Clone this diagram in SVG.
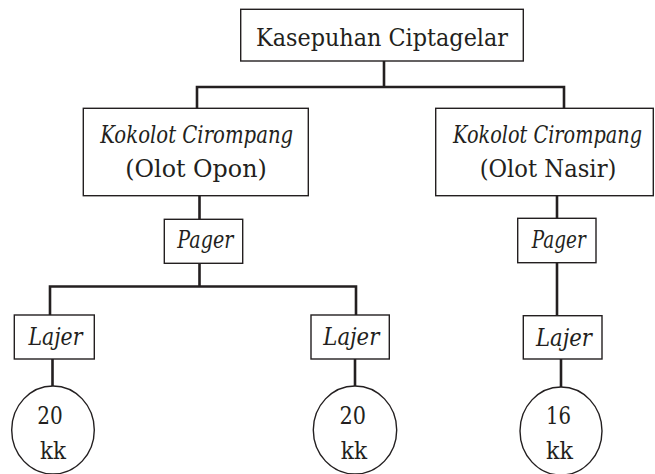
<svg xmlns="http://www.w3.org/2000/svg" width="655" height="474" viewBox="0 0 655 474">
<style>
.box{fill:#fff;stroke:#231f20;stroke-width:1.4}
.conn{fill:none;stroke:#231f20;stroke-width:2.6;stroke-linecap:square;stroke-linejoin:miter}
.t{font-family:'DejaVu Serif',serif;fill:#231f20;text-anchor:middle}
.r{font-size:25px}
.i{font-size:24px;font-style:italic}
.n{font-size:24px}
</style>
<rect width="655" height="474" fill="#fff"/>
<g id="connectors">
<path class="conn" d="M384 61 V87 M197 108 V87 H564 V108"/>
<path class="conn" d="M199.5 196 V219"/>
<path class="conn" d="M199.5 263 V286.5 M50 315 V286.5 H356 V315"/>
<path class="conn" d="M52.5 359 V386"/>
<path class="conn" d="M355 359 V386"/>
<path class="conn" d="M557 196 V218 M557 263 V315.5"/>
<path class="conn" d="M561 359 V386.5"/>
</g>
<g id="n-root">
<rect class="box" x="240.7" y="9.3" width="282.6" height="51.7"/>
<text class="t r" x="382" y="45.5" textLength="252" lengthAdjust="spacingAndGlyphs">Kasepuhan Ciptagelar</text>
</g>
<g id="n-kokolot-opon">
<rect class="box" x="83.3" y="108.3" width="225" height="87.4"/>
<text class="t i" x="196.7" y="143" textLength="193" lengthAdjust="spacingAndGlyphs">Kokolot Cirompang</text>
<text class="t r" x="196" y="177" textLength="141.5" lengthAdjust="spacingAndGlyphs">(Olot Opon)</text>
</g>
<g id="n-kokolot-nasir">
<rect class="box" x="435.7" y="108.3" width="217.6" height="87.4"/>
<text class="t i" x="547.5" y="143" textLength="189" lengthAdjust="spacingAndGlyphs">Kokolot Cirompang</text>
<text class="t r" x="548" y="177" textLength="136.7" lengthAdjust="spacingAndGlyphs">(Olot Nasir)</text>
</g>
<g id="n-pager-left">
<rect class="box" x="164.3" y="219.3" width="78.4" height="44"/>
<text class="t i" x="205.3" y="248.3" textLength="56" lengthAdjust="spacingAndGlyphs">Pager</text>
</g>
<g id="n-pager-right">
<rect class="box" x="517.7" y="218.3" width="78.3" height="44.4"/>
<text class="t i" x="558.7" y="248" textLength="54" lengthAdjust="spacingAndGlyphs">Pager</text>
</g>
<g id="n-lajer-1">
<rect class="box" x="14.3" y="315" width="80" height="44"/>
<text class="t i" x="55.5" y="345" textLength="54" lengthAdjust="spacingAndGlyphs">Lajer</text>
</g>
<g id="n-lajer-2">
<rect class="box" x="311" y="315" width="78.3" height="44"/>
<text class="t i" x="351.3" y="345" textLength="56" lengthAdjust="spacingAndGlyphs">Lajer</text>
</g>
<g id="n-lajer-3">
<rect class="box" x="523.3" y="315.7" width="78.7" height="43.3"/>
<text class="t i" x="564" y="345.5" textLength="56" lengthAdjust="spacingAndGlyphs">Lajer</text>
</g>
<g id="n-kk-1">
<ellipse class="box" cx="53" cy="430" rx="41.3" ry="44"/>
<text class="t n" x="50" y="424" textLength="25.5" lengthAdjust="spacingAndGlyphs">20</text>
<text class="t n" x="53" y="458.5" textLength="26" lengthAdjust="spacingAndGlyphs">kk</text>
</g>
<g id="n-kk-2">
<ellipse class="box" cx="355" cy="430" rx="41.7" ry="44"/>
<text class="t n" x="352.7" y="424" textLength="26.5" lengthAdjust="spacingAndGlyphs">20</text>
<text class="t n" x="354" y="458.5" textLength="26.3" lengthAdjust="spacingAndGlyphs">kk</text>
</g>
<g id="n-kk-3">
<ellipse class="box" cx="561" cy="431" rx="41" ry="44"/>
<text class="t n" x="558.5" y="424.3" textLength="25" lengthAdjust="spacingAndGlyphs">16</text>
<text class="t n" x="559.5" y="459" textLength="27" lengthAdjust="spacingAndGlyphs">kk</text>
</g>
</svg>
